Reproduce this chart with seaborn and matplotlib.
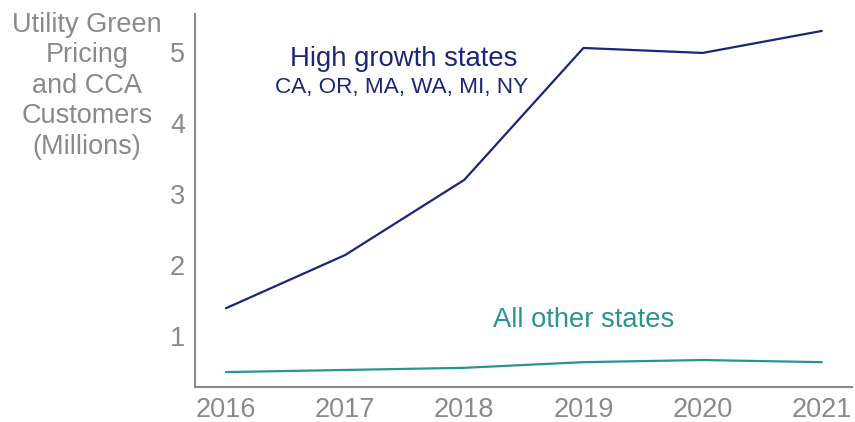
import matplotlib
matplotlib.use("Agg")
import matplotlib.pyplot as plt
import seaborn as sns
import pandas as pd

# Data (millions of customers)
years = [2016, 2017, 2018, 2019, 2020, 2021]
high_growth = [1.39, 2.14, 3.20, 5.06, 4.99, 5.30]
other_states = [0.49, 0.52, 0.55, 0.63, 0.66, 0.63]
y_ticks = [1, 2, 3, 4, 5]

navy = "#1c2677"
teal = "#2a9491"
gray = "#8a8a8a"

sns.set_style("white")
plt.rcParams["font.family"] = ["Liberation Sans", "DejaVu Sans"]

df = pd.DataFrame({
    "year": years * 2,
    "customers": high_growth + other_states,
    "group": ["High growth states"] * len(years) + ["All other states"] * len(years),
})

fig = plt.figure(figsize=(8.55, 4.22), dpi=100)
ax = fig.add_axes([0.228, 0.083, 0.768, 0.884])

sns.lineplot(data=df, x="year", y="customers", hue="group",
             palette={"High growth states": navy, "All other states": teal},
             linewidth=1.6, legend=False, ax=ax)

ax.set_xlim(2015.74, 2021.25)
ax.set_ylim(0.28, 5.54)
ax.set_xticks(years)
ax.set_yticks(y_ticks)
ax.set_xlabel("")
ax.set_ylabel("")
ax.tick_params(axis="both", length=0, labelsize=19.5, labelcolor=gray)
ax.tick_params(axis="x", pad=7)
ax.tick_params(axis="y", pad=7)

sns.despine(ax=ax)
for side in ["left", "bottom"]:
    ax.spines[side].set_color(gray)
    ax.spines[side].set_linewidth(1.5)

# series annotations
ax.text(2017.49, 4.81, "High growth states", color=navy, fontsize=19.8,
        ha="center", va="baseline")
ax.text(2017.47, 4.43, "CA, OR, MA, WA, MI, NY", color=navy, fontsize=16.2,
        ha="center", va="baseline")
ax.text(2019.0, 1.12, "All other states", color=teal, fontsize=19.7,
        ha="center", va="baseline")

# axis title sits to the left of the y-axis, horizontal
fig.text(87 / 855, 1 - 12 / 422,
         "Utility Green\nPricing\nand CCA\nCustomers\n(Millions)",
         color=gray, fontsize=19.5, ha="center", va="top",
         multialignment="center", linespacing=1.22)

fig.savefig("out.png", dpi=100)
